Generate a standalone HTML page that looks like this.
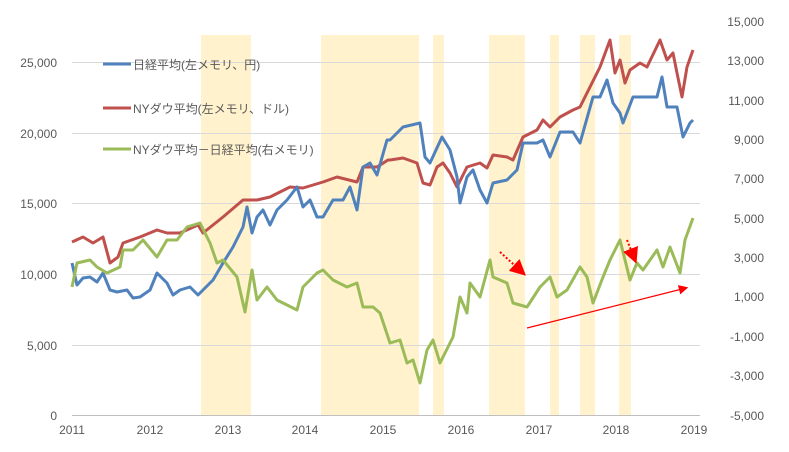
<!DOCTYPE html>
<html><head><meta charset="utf-8"><style>
body{margin:0;background:#fff}
svg text{font-family:"Liberation Sans","Noto Sans CJK JP",sans-serif;font-size:12px;fill:#595959}
</style></head><body>
<svg width="789" height="447" xmlns="http://www.w3.org/2000/svg">
<g fill="#fff2cc">
<rect x="201" y="35" width="50" height="380"/><rect x="321" y="35" width="98" height="380"/>
<rect x="433" y="35" width="11" height="380"/><rect x="489" y="35" width="36" height="380"/>
<rect x="550" y="35" width="9" height="380"/><rect x="580" y="35" width="15" height="380"/>
<rect x="619" y="35" width="12" height="380"/></g>
<g stroke="#d9d9d9" stroke-width="1">
<line x1="72" x2="700" y1="62.5" y2="62.5"/><line x1="72" x2="700" y1="133.5" y2="133.5"/>
<line x1="72" x2="700" y1="203.5" y2="203.5"/><line x1="72" x2="700" y1="274.5" y2="274.5"/>
<line x1="72" x2="700" y1="345.5" y2="345.5"/></g>
<line x1="72" x2="700" y1="415.5" y2="415.5" stroke="#bfbfbf"/>
<g text-anchor="end">
<text x="57" y="67">25,000</text><text x="57" y="138">20,000</text><text x="57" y="208">15,000</text>
<text x="57" y="279">10,000</text><text x="57" y="350">5,000</text><text x="57" y="420">0</text></g>
<g text-anchor="end">
<text x="764" y="26">15,000</text><text x="764" y="65">13,000</text><text x="764" y="105">11,000</text>
<text x="764" y="144">9,000</text><text x="764" y="183">7,000</text><text x="764" y="223">5,000</text>
<text x="764" y="262">3,000</text><text x="764" y="301">1,000</text><text x="764" y="341">-1,000</text>
<text x="764" y="380">-3,000</text><text x="764" y="420">-5,000</text></g>
<g text-anchor="middle">
<text x="72" y="434">2011</text><text x="150" y="434">2012</text><text x="228" y="434">2013</text>
<text x="305" y="434">2014</text><text x="383" y="434">2015</text><text x="461" y="434">2016</text>
<text x="539" y="434">2017</text><text x="616" y="434">2018</text><text x="694" y="434">2019</text></g>
<g fill="none" stroke-width="3" stroke-linejoin="round">
<polyline stroke="#c0504d" points="72,242 83,237 93,243 103,237 110,263 118,257 123,243 140,237 157,230 167,233 180,233 198,225 203,233 223,217 243,200 257,200 270,197 290,187 303,188 323,182 337,177 357,182 363,167 377,167 388,160 390,160 403,158 417,163 423,183 430,185 437,167 443,163 450,173 457,187 467,167 480,163 487,168 493,155 507,157 513,160 523,137 537,130 543,120 550,127 560,117 573,110 580,107 590,87 600,67 610,40 615,73 620,60 625,83 630,70 640,63 647,67 660,40 667,60 673,53 677,73 682,97 687,67 693,50"/>
<polyline stroke="#4f81bd" points="72,263 77,285 83,278 90,277 97,282 103,273 110,290 117,292 127,290 133,298 140,297 150,290 157,273 167,283 173,295 180,290 190,287 198,295 203,290 213,280 223,263 233,247 243,227 247,207 252,233 257,217 263,210 270,225 277,210 287,200 297,187 303,207 310,200 317,217 323,217 333,200 343,200 350,187 357,210 363,167 370,163 377,175 387,140 390,140 403,127 420,123 425,157 430,163 442,137 450,150 457,177 460,203 467,177 473,170 480,190 487,203 493,183 507,180 517,170 523,143 537,143 543,140 550,157 560,132 573,132 580,143 593,97 600,97 607,80 613,103 620,113 623,123 633,97 647,97 657,97 662,77 667,107 677,107 683,137 690,123 693,120"/>
<polyline stroke="#9bbb59" points="72,287 77,263 90,260 97,267 107,273 120,267 123,250 133,250 143,240 157,257 167,240 177,240 187,227 200,223 210,243 217,263 223,260 237,277 245,312 252,270 257,300 267,287 277,300 297,310 303,287 317,273 323,270 333,280 347,287 357,283 363,307 373,307 380,313 390,343 400,340 407,363 413,360 420,383 427,350 433,340 440,363 453,337 460,297 467,313 470,283 480,297 490,260 493,277 507,283 513,303 527,307 540,287 550,277 557,297 567,290 580,267 587,277 593,303 603,277 610,260 620,240 630,280 637,263 643,270 657,250 663,267 670,247 680,273 685,240 693,218"/>
</g>
<defs><marker id="a" markerWidth="8" markerHeight="8" refX="6" refY="4" orient="auto"><path d="M0,0 L8,4 L0,8z" fill="#ff0000"/></marker></defs>
<line x1="527" y1="328" x2="686" y2="288" stroke="#ff0000" stroke-width="1.2" marker-end="url(#a)"/>
<line x1="500" y1="252" x2="523" y2="273" stroke="#ff0000" stroke-width="2" stroke-dasharray="2,2" marker-end="url(#a)"/>
<line x1="627" y1="240" x2="635" y2="260" stroke="#ff0000" stroke-width="2" stroke-dasharray="2,2" marker-end="url(#a)"/>
<g stroke-width="3">
<line x1="103" x2="131" y1="64" y2="64" stroke="#4f81bd"/>
<line x1="103" x2="131" y1="108" y2="108" stroke="#c0504d"/>
<line x1="103" x2="131" y1="149" y2="149" stroke="#9bbb59"/></g>
<text x="133" y="69">日経平均(左メモリ、円)</text>
<text x="133" y="113">NYダウ平均(左メモリ、ドル)</text>
<text x="133" y="154">NYダウ平均－日経平均(右メモリ)</text>
</svg>
</body></html>
